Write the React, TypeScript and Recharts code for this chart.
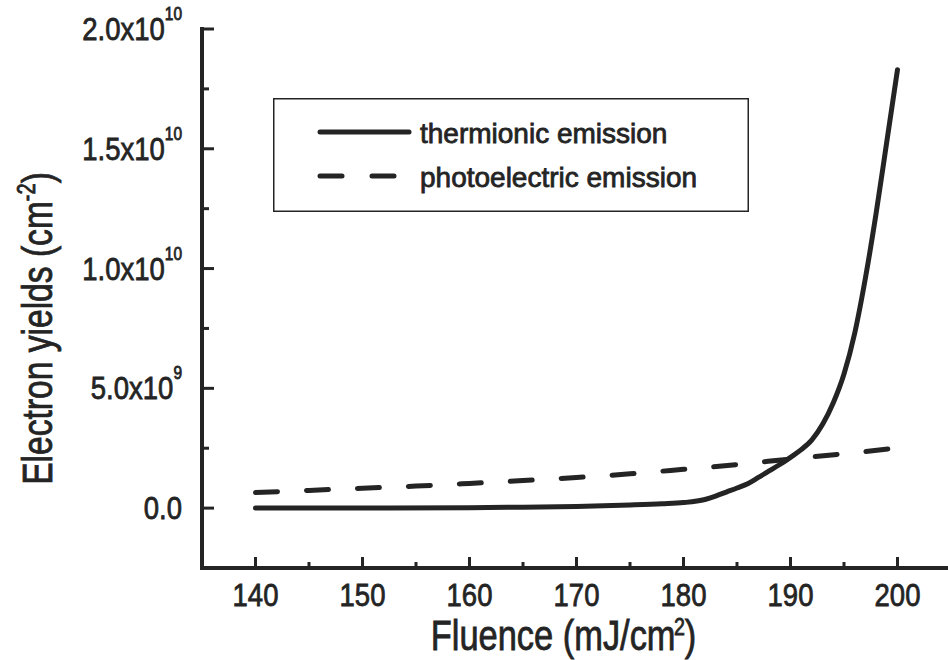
import React from "react";
import { LineChart, Line, XAxis, YAxis, Legend } from "recharts";

// fluence (mJ/cm2) and yields (cm^-2)
const thermFluence = [140, 150, 160, 165, 170, 175, 178, 180, 182, 183, 184, 185, 186, 187, 188, 189, 190, 191, 192, 193, 194, 195, 196, 197, 198, 199, 200];
const thermYield = [0, 0, 0.02e9, 0.04e9, 0.07e9, 0.13e9, 0.18e9, 0.23e9, 0.36e9, 0.5e9, 0.67e9, 0.84e9, 1.02e9, 1.28e9, 1.55e9, 1.82e9, 2.12e9, 2.44e9, 2.85e9, 3.5e9, 4.4e9, 5.6e9, 7.3e9, 9.6e9, 12.3e9, 15.3e9, 18.3e9];

const photoFluence = [140, 145, 150, 155, 160, 165, 170, 175, 180, 185, 190, 195, 200];
const photoYield = [0.65e9, 0.74e9, 0.83e9, 0.92e9, 1.03e9, 1.15e9, 1.28e9, 1.43e9, 1.62e9, 1.82e9, 2.05e9, 2.27e9, 2.51e9];

const xTicks = [140, 145, 150, 155, 160, 165, 170, 175, 180, 185, 190, 195, 200];
const yTicks = [0, 2.5e9, 5e9, 7.5e9, 1e10, 1.25e10, 1.5e10, 1.75e10, 2e10];

const thermData = thermFluence.map((x, i) => ({ x, y: thermYield[i] }));
const photoData = photoFluence.map((x, i) => ({ x, y: photoYield[i] }));

const FONT = "'Liberation Sans', Arial, Helvetica, sans-serif";
const INK = "#242424";
// scanned figure has heavy glyphs, thicken a little
const heavy = { stroke: INK, strokeWidth: 0.8 };

function XTick({ x, y, payload }: any) {
  const v = payload.value;
  const major = v % 10 === 0;
  return (
    <g>
      <line x1={x} y1={y} x2={x} y2={y - (major ? 11 : 6)} stroke={INK} strokeWidth={3} />
      {major && (
        <text
          transform={`translate(${x},${y + 38}) scale(0.86,1)`}
          textAnchor="middle"
          fontSize={32}
          fontFamily={FONT}
          fill={INK}
          {...heavy}
        >
          {v}
        </text>
      )}
    </g>
  );
}

function YTick({ x, y, payload }: any) {
  const v = payload.value;
  const major = Math.abs(v % 5e9) < 1;
  let label: any = null;
  if (major) {
    if (v === 0) {
      label = "0.0";
    } else {
      const exp = Math.floor(Math.log10(v));
      const mant = (v / Math.pow(10, exp)).toFixed(1);
      label = (
        <>
          <tspan>{mant}x10</tspan>
          <tspan dy={-20} fontSize={18}>{exp}</tspan>
        </>
      );
    }
  }
  return (
    <g>
      <line x1={x} y1={y} x2={x + (major ? 12 : 7)} y2={y} stroke={INK} strokeWidth={3} />
      {label && (
        <text
          transform={`translate(${x - 20},${y + 11}) scale(0.86,1)`}
          textAnchor="end"
          fontSize={32}
          fontFamily={FONT}
          fill={INK}
          {...heavy}
        >
          {label}
        </text>
      )}
    </g>
  );
}

function XTitle({ viewBox }: any) {
  const cx = viewBox.x + viewBox.width / 2 - 13;
  const by = viewBox.y + 82;
  return (
    <text transform={`translate(${cx},${by}) scale(0.82,1)`} textAnchor="middle" fontSize={42} fontFamily={FONT} fill={INK} {...heavy}>
      <tspan>Fluence (mJ/cm</tspan>
      <tspan dx={-2} dy={-15} fontSize={24}>2</tspan>
      <tspan dy={15}>)</tspan>
    </text>
  );
}

function YTitle({ viewBox }: any) {
  const bx = viewBox.x + 50;
  const cy = viewBox.y + viewBox.height / 2 + 30;
  return (
    <text transform={`translate(${bx},${cy}) rotate(-90) scale(0.8,1)`} textAnchor="middle" fontSize={42} fontFamily={FONT} fill={INK} {...heavy}>
      <tspan>Electron yields (cm</tspan>
      <tspan dy={-17} fontSize={25}>-2</tspan>
      <tspan dy={17}>)</tspan>
    </text>
  );
}

function LegendBox({ payload }: any) {
  const items = [...(payload || [])].sort((a: any, b: any) => {
    const da = a.payload && a.payload.strokeDasharray ? 1 : 0;
    const db = b.payload && b.payload.strokeDasharray ? 1 : 0;
    return da - db;
  });
  return (
    <svg width={476} height={114} style={{ display: "block" }}>
      <rect x={0.75} y={0.75} width={474.5} height={112.5} fill="#fff" stroke={INK} strokeWidth={1.5} />
      {items.map((entry: any, i: number) => {
        const cy = 34 + i * 44;
        const dashed = !!(entry.payload && entry.payload.strokeDasharray);
        return (
          <g key={entry.value}>
            {dashed ? (
              <>
                <line x1={47} y1={cy} x2={69} y2={cy} stroke={INK} strokeWidth={5} strokeLinecap="round" />
                <line x1={99} y1={cy} x2={121} y2={cy} stroke={INK} strokeWidth={5} strokeLinecap="round" />
              </>
            ) : (
              <line x1={47} y1={cy} x2={136} y2={cy} stroke={INK} strokeWidth={5} strokeLinecap="round" />
            )}
            <text x={147} y={cy + 11} fontSize={28} fontFamily={FONT} fill={INK} {...heavy}>
              {entry.value}
            </text>
          </g>
        );
      })}
    </svg>
  );
}

export default function App() {
  return (
    <div style={{ position: "absolute", left: 0, top: 0, width: 948, height: 660, overflow: "hidden", background: "#fff" }}>
      <LineChart width={960} height={660} margin={{ top: 29, right: 9, left: 2, bottom: 0 }}>
        <XAxis
          dataKey="x"
          type="number"
          domain={[135, 205]}
          ticks={xTicks}
          interval={0}
          tickSize={0}
          tickMargin={0}
          tickLine={false}
          tick={<XTick />}
          height={92}
          axisLine={{ stroke: INK, strokeWidth: 4, strokeLinecap: "square" }}
          label={{ content: <XTitle /> }}
          allowDuplicatedCategory={false}
        />
        <YAxis
          type="number"
          domain={[-2.5e9, 2e10]}
          ticks={yTicks}
          interval={0}
          tickSize={0}
          tickMargin={0}
          tickLine={false}
          tick={<YTick />}
          width={200}
          axisLine={{ stroke: INK, strokeWidth: 4, strokeLinecap: "square" }}
          label={{ content: <YTitle /> }}
        />
        <Legend
          layout="vertical"
          align="center"
          verticalAlign="middle"
          width={476}
          height={114}
          wrapperStyle={{ left: 273, top: 98, width: 476, height: 114 }}
          content={<LegendBox />}
        />
        <Line
          data={thermData}
          dataKey="y"
          name="thermionic emission"
          type="monotone"
          stroke={INK}
          strokeWidth={5}
          strokeLinecap="round"
          dot={false}
          activeDot={false}
          isAnimationActive={false}
        />
        <Line
          data={photoData}
          dataKey="y"
          name="photoelectric emission"
          type="monotone"
          stroke={INK}
          strokeWidth={5}
          strokeDasharray="22 29"
          strokeLinecap="round"
          dot={false}
          activeDot={false}
          isAnimationActive={false}
        />
      </LineChart>
    </div>
  );
}
